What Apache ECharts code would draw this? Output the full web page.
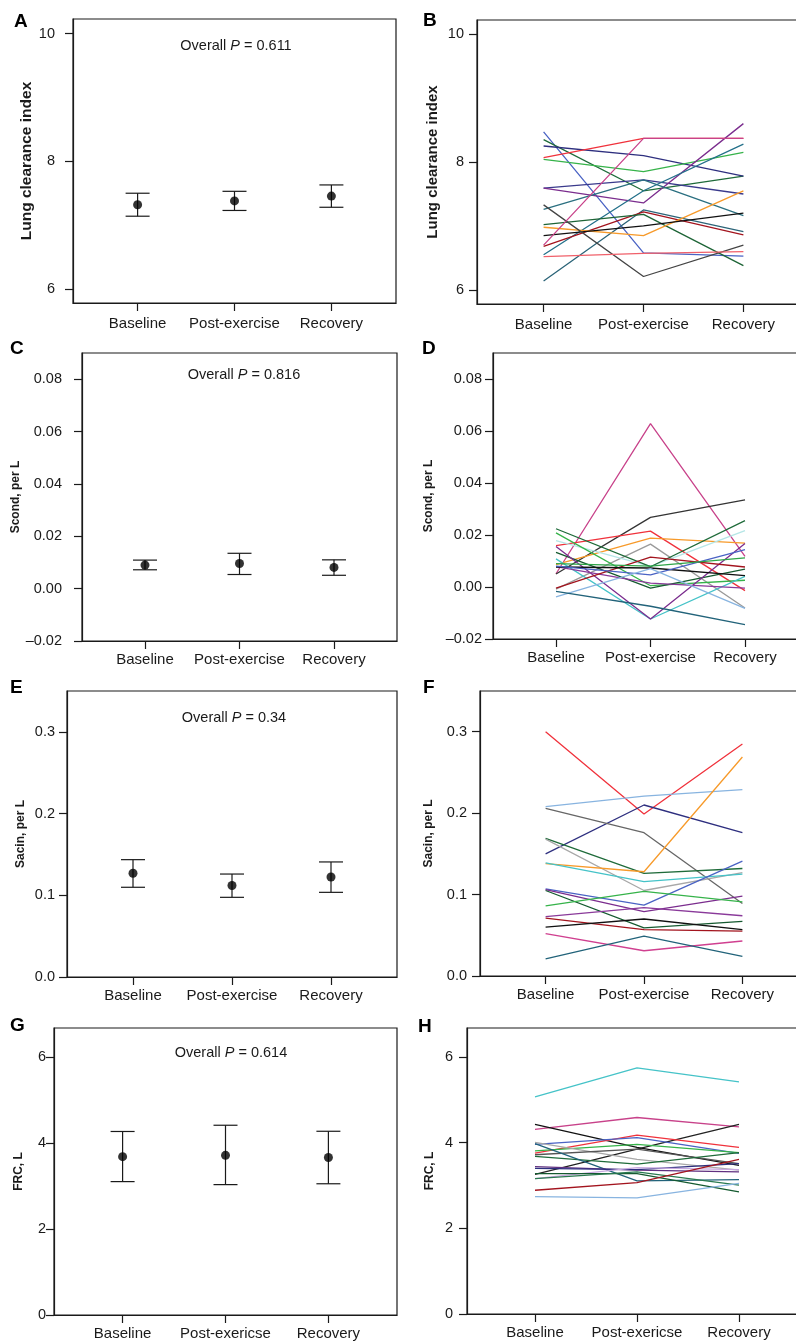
<!DOCTYPE html>
<html>
<head>
<meta charset="utf-8">
<script src="https://cdn.jsdelivr.net/npm/echarts@6/dist/echarts.min.js"></script>
<style>
html, body { margin: 0; padding: 0; background: #fff; overflow: hidden; width: 796px; height: 1341px; }
/* wider than the window so the right-hand boxes run off the edge like the original */
#chart { width: 830px; height: 1341px; }
</style>
</head>
<body>
<div id="chart"></div>
<script>
// categories
const cats = ['Baseline', 'Post-exercise', 'Recovery'];
const catsFrc = ['Baseline', 'Post-exericse', 'Recovery'];

// mean with error bars (left column)
const lciMean = [7.32, 7.38, 7.455];
const lciLow = [7.14, 7.23, 7.28];
const lciHigh = [7.50, 7.53, 7.63];

const scondMean = [0.0090, 0.0096, 0.0081];
const scondLow = [0.0072, 0.0054, 0.0051];
const scondHigh = [0.0109, 0.0135, 0.0110];

const sacinMean = [0.127, 0.112, 0.1224];
const sacinLow = [0.1098, 0.0975, 0.1036];
const sacinHigh = [0.1436, 0.126, 0.1408];

const frcMean = [3.68, 3.71, 3.66];
const frcLow = [3.10, 3.03, 3.05];
const frcHigh = [4.265, 4.41, 4.27];

// individual subjects (right column), [baseline, post, recovery]
const lciLines = [
    [8.47, 6.58, 6.53], [8.35, 7.55, 7.78], [8.25, 8.10, 7.78], [8.07, 8.37, 8.37],
    [8.04, 7.85, 8.15], [7.59, 7.72, 7.50], [7.59, 7.36, 8.60], [7.26, 7.72, 7.16],
    [6.55, 7.55, 8.28], [6.14, 7.25, 6.91], [6.68, 7.22, 6.86], [7.02, 7.18, 6.38],
    [6.98, 6.85, 7.55], [6.85, 7.00, 7.20], [7.33, 6.21, 6.70], [6.70, 8.37, 8.37],
    [6.52, 6.57, 6.60]
];
const lciColors = ['#4a63c4', '#1f6b3a', '#2e2f7f', '#f0323c', '#36b34a', '#3a3a8c', '#7b2d8e', '#2a6f80',
    '#23708a', '#2b6478', '#a3141e', '#1d6436', '#f79a2a', '#111111', '#444444', '#c8428a', '#f0606a'];

const scondLines = [
    [0.0051, 0.0628, 0.0118], [0.0050, 0.0268, 0.0335], [0.0159, 0.0215, -0.0014], [0.0086, 0.0188, 0.0169],
    [-0.0008, 0.0165, -0.0081], [0.0178, 0.0079, 0.0217], [0.0224, 0.0078, 0.0255], [0.0208, 0.0005, 0.0026],
    [0.0133, -0.0004, 0.0069], [0.0108, -0.0123, 0.0041], [0.0156, -0.0123, 0.0167], [0.0078, 0.0015, -0.0004],
    [-0.0004, 0.0115, 0.0077], [0.0077, 0.0073, 0.0044], [0.0080, 0.0047, 0.0144], [0.0090, 0.0080, 0.0112],
    [-0.0038, 0.0071, -0.0082], [-0.0017, -0.0074, -0.0145]
];
const scondColors = ['#c8428a', '#333333', '#f0323c', '#f79a2a', '#9a9a9a', '#b5e6e6', '#1f6b3a', '#36b34a',
    '#155a30', '#45c3c8', '#7b2d8e', '#8a3a9a', '#a3141e', '#111111', '#4a63c4', '#2ea448', '#88b4e0', '#22637a'];

const sacinLines = [
    [0.300, 0.199, 0.285], [0.208, 0.221, 0.229], [0.150, 0.210, 0.176], [0.206, 0.176, 0.089],
    [0.169, 0.126, 0.132], [0.168, 0.105, 0.127], [0.138, 0.128, 0.269], [0.139, 0.116, 0.125],
    [0.107, 0.087, 0.141], [0.106, 0.079, 0.098], [0.105, 0.059, 0.067], [0.086, 0.104, 0.091],
    [0.073, 0.084, 0.074], [0.071, 0.057, 0.055], [0.060, 0.070, 0.057], [0.052, 0.031, 0.043],
    [0.021, 0.049, 0.024]
];
const sacinColors = ['#f0323c', '#88b4e0', '#2e2f7f', '#666666', '#1f6b3a', '#a8a8a8', '#f79a2a', '#45c3c8',
    '#4a63c4', '#7b2d8e', '#155a30', '#36b34a', '#8a3a9a', '#a3141e', '#111111', '#d04090', '#22637a'];

const frcLines = [
    [5.07, 5.75, 5.42], [4.31, 4.59, 4.37], [4.43, 3.89, 3.47], [3.26, 3.85, 4.43],
    [3.76, 4.18, 3.89], [3.96, 4.12, 3.75], [3.81, 3.96, 3.77], [4.01, 3.61, 3.36],
    [3.72, 3.85, 3.51], [3.68, 3.50, 3.77], [3.98, 3.11, 3.14], [3.44, 3.36, 3.32],
    [3.40, 3.37, 3.51], [3.16, 3.42, 3.37], [3.28, 3.28, 2.85], [3.16, 3.32, 3.01],
    [2.89, 3.07, 3.61], [2.74, 2.71, 3.05]
];
const frcColors = ['#45c3c8', '#c8428a', '#111111', '#222222', '#f0323c', '#4a63c4', '#36b34a', '#a8a8a8',
    '#555555', '#1f6b3a', '#22637a', '#603080', '#2e2f7f', '#c8a8e0', '#155a30', '#2a7a50', '#a3141e', '#88b4e0'];

// y ticks
const lciTicks = [6, 8, 10];
const scondTicks = [-0.02, 0, 0.02, 0.04, 0.06, 0.08];
const sacinTicks = [0, 0.1, 0.2, 0.3];
const frcTicks = [0, 2, 4, 6];

const FONT = 'Liberation Sans, Arial, Helvetica, sans-serif';
const INK = '#1a1a1a';

let panels = [
    {letter: 'A', lx: 14, ly: 22, left: 73, top: 19, width: 323, height: 284, ymin: 5.78, ymax: 10.23, ticks: lciTicks, dec: 0,
        title: 'Lung clearance index', tSize: 15.5, gap: 36, lm: 18, xm: 13, cats: cats, p: '0.611', px: 236, py: 46,
        mean: lciMean, low: lciLow, high: lciHigh},
    {letter: 'B', lx: 423, ly: 21, left: 477, top: 20, width: 333, height: 284, ymin: 5.78, ymax: 10.22, ticks: lciTicks, dec: 0,
        title: 'Lung clearance index', tSize: 15, gap: 37, lm: 13, xm: 13, cats: cats, lines: lciLines, colors: lciColors},
    {letter: 'C', lx: 10, ly: 349, left: 82, top: 353, width: 315, height: 288, ymin: -0.02, ymax: 0.09, ticks: scondTicks, dec: 2,
        title: 'Scond, per L', tSize: 12, gap: 53, lm: 20, xm: 11, cats: cats, p: '0.816', px: 244, py: 375,
        mean: scondMean, low: scondLow, high: scondHigh},
    {letter: 'D', lx: 422, ly: 349, left: 493, top: 353, width: 315, height: 286, ymin: -0.02, ymax: 0.09, ticks: scondTicks, dec: 2,
        title: 'Scond, per L', tSize: 12, gap: 58, lm: 11, xm: 11, cats: cats, lines: scondLines, colors: scondColors},
    {letter: 'E', lx: 10, ly: 688, left: 67, top: 691, width: 330, height: 286, ymin: 0, ymax: 0.35, ticks: sacinTicks, dec: 1,
        title: 'Sacin, per L', tSize: 12, gap: 40, lm: 12, xm: 11, cats: cats, p: '0.34', px: 234, py: 718,
        mean: sacinMean, low: sacinLow, high: sacinHigh},
    {letter: 'F', lx: 423, ly: 688, left: 480, top: 691, width: 328, height: 285, ymin: 0, ymax: 0.35, ticks: sacinTicks, dec: 1,
        title: 'Sacin, per L', tSize: 12, gap: 45, lm: 13, xm: 11, cats: cats, lines: sacinLines, colors: sacinColors},
    {letter: 'G', lx: 10, ly: 1026, left: 54, top: 1028, width: 343, height: 287, ymin: 0, ymax: 6.67, ticks: frcTicks, dec: 0,
        title: 'FRC, L', tSize: 12, gap: 29, lm: 8, xm: 11, cats: catsFrc, p: '0.614', px: 231, py: 1053,
        mean: frcMean, low: frcLow, high: frcHigh},
    {letter: 'H', lx: 418, ly: 1027, left: 467, top: 1028, width: 340, height: 286, ymin: 0, ymax: 6.68, ticks: frcTicks, dec: 0,
        title: 'FRC, L', tSize: 12, gap: 31, lm: 14, xm: 11, cats: catsFrc, lines: frcLines, colors: frcColors}
];

let grids = [], xAxes = [], yAxes = [], series = [], graphics = [];

function errorBar(params, api) {
    let x = api.value(0);
    let lo = api.coord([x, api.value(1)]);
    let hi = api.coord([x, api.value(2)]);
    let w = 12;
    let st = {stroke: INK, lineWidth: 1.2};
    return {
        type: 'group',
        children: [
            {type: 'line', shape: {x1: hi[0], y1: hi[1], x2: lo[0], y2: lo[1]}, style: st},
            {type: 'line', shape: {x1: hi[0] - w, y1: hi[1], x2: hi[0] + w, y2: hi[1]}, style: st},
            {type: 'line', shape: {x1: lo[0] - w, y1: lo[1], x2: lo[0] + w, y2: lo[1]}, style: st}
        ]
    };
}

panels.forEach((p, i) => {
    grids.push({
        left: p.left, top: p.top, width: p.width, height: p.height,
        show: true, borderColor: INK, borderWidth: 1.2, backgroundColor: 'transparent'
    });
    let names = p.cats;
    xAxes.push({
        gridIndex: i, type: 'value', min: 1 / 3, max: 11 / 3,
        axisLine: {show: true, onZero: false, lineStyle: {color: INK, width: 1.2}},
        axisTick: {show: true, length: 8, lineStyle: {color: INK, width: 1.2}, customValues: [1, 2, 3]},
        axisLabel: {
            margin: p.xm, fontSize: 15, fontFamily: FONT, color: INK, customValues: [1, 2, 3],
            formatter: v => names[Math.round(v) - 1] || ''
        },
        splitLine: {show: false}
    });
    yAxes.push({
        gridIndex: i, type: 'value', min: p.ymin, max: p.ymax,
        name: p.title, nameLocation: 'middle', nameGap: p.gap,
        nameTextStyle: {fontSize: p.tSize, fontWeight: 'bold', fontFamily: FONT, color: INK},
        axisLine: {show: true, onZero: false, lineStyle: {color: INK, width: 1.2}},
        axisTick: {show: true, length: 8, lineStyle: {color: INK, width: 1.2}, customValues: p.ticks},
        axisLabel: {
            margin: p.lm, fontSize: 14.5, fontFamily: FONT, color: INK, customValues: p.ticks,
            formatter: v => {
                let s = Math.abs(v).toFixed(p.dec);
                return v < -1e-9 ? '\u2013' + s : s;
            }
        },
        splitLine: {show: false}
    });

    if (p.mean) {
        series.push({
            type: 'custom', xAxisIndex: i, yAxisIndex: i, silent: true,
            renderItem: errorBar,
            encode: {x: 0, y: [1, 2]},
            data: p.mean.map((m, k) => [k + 1, p.low[k], p.high[k]])
        });
        series.push({
            type: 'scatter', xAxisIndex: i, yAxisIndex: i, silent: true,
            symbolSize: 9, itemStyle: {color: '#000'},
            data: p.mean.map((m, k) => [k + 1, m])
        });
        graphics.push({
            type: 'text', x: p.px, y: p.py, silent: true,
            style: {
                text: '{a|Overall }{i|P}{a| = ' + p.p + '}',
                align: 'center', verticalAlign: 'middle',
                rich: {
                    a: {fontSize: 14.5, fontFamily: FONT, fill: INK},
                    i: {fontSize: 14.5, fontFamily: FONT, fontStyle: 'italic', fill: INK}
                }
            }
        });
    } else {
        p.lines.forEach((vals, k) => {
            series.push({
                type: 'line', xAxisIndex: i, yAxisIndex: i, silent: true,
                showSymbol: false, symbol: 'none',
                lineStyle: {color: p.colors[k], width: 1.3},
                data: vals.map((v, j) => [j + 1, v])
            });
        });
    }

    graphics.push({
        type: 'text', x: p.lx, y: p.ly, silent: true,
        style: {text: p.letter, fontSize: 19, fontWeight: 'bold', fontFamily: FONT, fill: '#000', align: 'left', verticalAlign: 'middle'}
    });
});

let chart = echarts.init(document.getElementById('chart'), null, {renderer: 'canvas'});
chart.setOption({
    animation: false,
    backgroundColor: '#fff',
    grid: grids,
    xAxis: xAxes,
    yAxis: yAxes,
    series: series,
    graphic: graphics
});
</script>
</body>
</html>
